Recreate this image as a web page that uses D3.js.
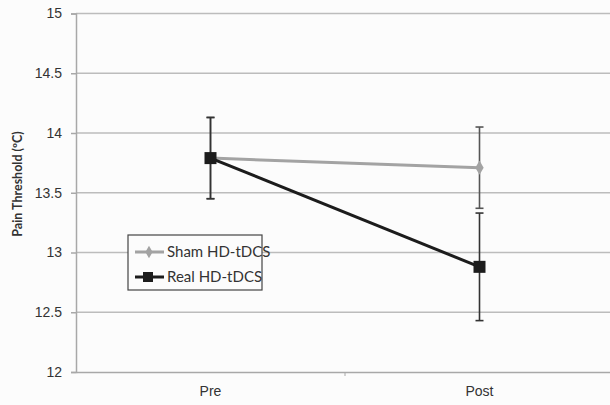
<!DOCTYPE html>
<html>
<head>
<meta charset="utf-8">
<script src="https://cdn.jsdelivr.net/npm/d3@7"></script>
<style>
  html, body { margin: 0; padding: 0; background: #fcfcfc; }
  svg { display: block; font-family: Lato, "Open Sans", sans-serif; }
</style>
</head>
<body>
<svg id="chart" width="610" height="405"></svg>
<script>
// Pain threshold by session, mean ± error
const sessions = ["Pre", "Post"];
const shamMean = [13.79, 13.71];
const shamErr = [0.34, 0.34];
const realMean = [13.79, 12.88];
const realErr = [0.34, 0.45];
const yTicks = [12, 12.5, 13, 13.5, 14, 14.5, 15];
const seriesNames = ["Sham HD-tDCS", "Real HD-tDCS"];

const svg = d3.select("#chart");
const plotLeft = 76, plotRight = 614, plotTop = 13.5, plotBottom = 372;

const x = d3.scaleBand().domain(sessions).range([plotLeft, plotRight]).paddingInner(0).paddingOuter(0);
const xc = d => x(d) + x.bandwidth() / 2;
const y = d3.scaleLinear().domain([12, 15]).range([plotBottom, plotTop]);

// horizontal gridlines
svg.append("g").selectAll("line").data(yTicks.filter(t => t > 12)).join("line")
  .attr("x1", plotLeft).attr("x2", 610)
  .attr("y1", d => y(d)).attr("y2", d => y(d))
  .attr("stroke", "#bcbcbc").attr("stroke-width", 1.5);

// y axis
const yAxis = svg.append("g").attr("transform", `translate(${plotLeft},0)`)
  .call(d3.axisLeft(y).tickValues(yTicks).tickSize(5).tickPadding(9).tickFormat(d3.format("")));
yAxis.select(".domain").attr("stroke", "#a8a8a8").attr("stroke-width", 1.5);
yAxis.selectAll(".tick line").attr("stroke", "#a8a8a8").attr("stroke-width", 1.5);
yAxis.selectAll(".tick text").attr("font-size", 14).attr("fill", "#333");

// x axis
const xAxis = svg.append("g").attr("transform", `translate(0,${plotBottom})`)
  .call(d3.axisBottom(x).tickSize(0).tickPadding(14));
xAxis.select(".domain").attr("stroke", "#a8a8a8").attr("stroke-width", 1.5);
xAxis.selectAll(".tick text").attr("font-size", 14).attr("fill", "#333");
// category separator tick
svg.append("line")
  .attr("x1", x("Post")).attr("x2", x("Post"))
  .attr("y1", plotBottom).attr("y2", plotBottom + 4)
  .attr("stroke", "#a8a8a8").attr("stroke-width", 1);

// y-axis title
svg.append("text")
  .attr("transform", "translate(22,184) rotate(-90)")
  .attr("text-anchor", "middle")
  .attr("font-size", 12.5).attr("font-weight", "bold").attr("fill", "#333")
  .text("Pain Threshold (ºC)");

const line = d3.line().x((d, i) => xc(sessions[i])).y(d => y(d));

function errorBars(means, errs, color) {
  const g = svg.append("g");
  means.forEach((m, i) => {
    const cx = xc(sessions[i]);
    g.append("line").attr("x1", cx).attr("x2", cx)
      .attr("y1", y(m - errs[i])).attr("y2", y(m + errs[i]))
      .attr("stroke", color).attr("stroke-width", 1.6);
    [m - errs[i], m + errs[i]].forEach(v => {
      g.append("line").attr("x1", cx - 4).attr("x2", cx + 4)
        .attr("y1", y(v)).attr("y2", y(v))
        .attr("stroke", color).attr("stroke-width", 1.6);
    });
  });
}

// sham series
errorBars(shamMean, shamErr, "#555");
svg.append("path").datum(shamMean).attr("d", line)
  .attr("fill", "none").attr("stroke", "#a3a3a3").attr("stroke-width", 3);
svg.append("g").selectAll("path").data(shamMean).join("path")
  .attr("d", d3.symbol(d3.symbolDiamond, 60))
  .attr("transform", (d, i) => `translate(${xc(sessions[i])},${y(d)})`)
  .attr("fill", "#a3a3a3");

// real series
errorBars(realMean, realErr, "#333");
svg.append("path").datum(realMean).attr("d", line)
  .attr("fill", "none").attr("stroke", "#1c1c1c").attr("stroke-width", 3);
svg.append("g").selectAll("rect").data(realMean).join("rect")
  .attr("x", (d, i) => xc(sessions[i]) - 6).attr("y", d => y(d) - 6)
  .attr("width", 12).attr("height", 12)
  .attr("fill", "#1c1c1c");

// legend
const lg = svg.append("g").attr("transform", "translate(128,235)");
lg.append("rect").attr("width", 134).attr("height", 55)
  .attr("fill", "#fcfcfc").attr("stroke", "#444").attr("stroke-width", 1.2);
const legendColors = ["#a3a3a3", "#1c1c1c"];
seriesNames.forEach((name, i) => {
  const ry = 17 + i * 25;
  lg.append("line").attr("x1", 7).attr("x2", 36).attr("y1", ry).attr("y2", ry)
    .attr("stroke", legendColors[i]).attr("stroke-width", 3);
  if (i === 0) {
    lg.append("path").attr("d", d3.symbol(d3.symbolDiamond, 45))
      .attr("transform", `translate(21,${ry})`).attr("fill", legendColors[i]);
  } else {
    lg.append("rect").attr("x", 15).attr("y", ry - 5).attr("width", 10).attr("height", 10)
      .attr("fill", legendColors[i]);
  }
  lg.append("text").attr("x", 39).attr("y", ry).attr("dy", "0.35em")
    .attr("font-size", 15).attr("fill", "#333").text(name);
});
</script>
</body>
</html>
